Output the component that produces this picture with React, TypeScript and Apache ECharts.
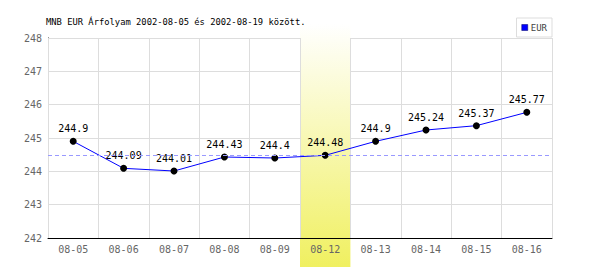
import React, { useEffect, useRef } from "react";
import * as echarts from "echarts";

const titleText = "MNB EUR Árfolyam 2002-08-05 és 2002-08-19 között.";
const seriesName = "EUR";
const categories = ["08-05", "08-06", "08-07", "08-08", "08-09", "08-12", "08-13", "08-14", "08-15", "08-16"];
const values = [244.9, 244.09, 244.01, 244.43, 244.4, 244.48, 244.9, 245.24, 245.37, 245.77];
const highlightCategory = "08-12";
const referenceValue = 244.48;
const yMin = 242;
const yMax = 248;
const yInterval = 1;

const FONT = "DejaVu Sans Mono";

export default function App() {
  const ref = useRef<HTMLDivElement>(null);
  useEffect(() => {
    document.body.style.margin = "0";
    if (!ref.current) return;
    const chart = echarts.init(ref.current, undefined, { renderer: "svg" });
    const bandData = categories.map((c) => (c === highlightCategory ? 1 : null));
    chart.setOption({
      animation: false,
      backgroundColor: "#ffffff",
      title: {
        text: titleText,
        left: 46,
        top: 17,
        padding: 0,
        textStyle: { fontFamily: FONT, fontSize: 8.8, fontWeight: "normal", color: "#000000" },
      },
      legend: {
        data: [{ name: seriesName, itemStyle: { color: "#0000ff", borderColor: "#000066", borderWidth: 0.5 } }],
        right: 48,
        top: 18,
        padding: [5, 5, 5, 5],
        borderColor: "#dddddd",
        borderWidth: 1,
        itemWidth: 6,
        itemHeight: 6,
        itemGap: 3,
        icon: "rect",
        textStyle: { fontFamily: FONT, fontSize: 9, color: "#444444", padding: [0, 0, 0, -2] },
      },
      grid: [
        { left: 48, right: 48, top: 38, bottom: 32, containLabel: false },
        { left: 48, right: 48, top: 24, bottom: 3, containLabel: false },
      ],
      xAxis: [
        {
          type: "category",
          gridIndex: 0,
          data: categories,
          z: 3,
          boundaryGap: true,
          axisLine: { show: true, lineStyle: { color: "#000000", width: 1 } },
          axisTick: { show: false },
          axisLabel: { fontFamily: FONT, fontSize: 10, color: "#666666", margin: 6 },
          splitLine: { show: true, lineStyle: { color: "#dddddd", width: 1 } },
        },
        {
          type: "category",
          gridIndex: 1,
          data: categories,
          show: false,
        },
      ],
      yAxis: [
        {
          type: "value",
          gridIndex: 0,
          min: yMin,
          max: yMax,
          interval: yInterval,
          z: 0,
          axisLine: { show: true, lineStyle: { color: "#000000", width: 1 } },
          axisTick: { show: false },
          axisLabel: { fontFamily: FONT, fontSize: 10, color: "#666666", margin: 6 },
          splitLine: { show: true, lineStyle: { color: "#dddddd", width: 1 } },
        },
        {
          type: "value",
          gridIndex: 1,
          min: 0,
          max: 1,
          show: false,
        },
      ],
      series: [
        {
          type: "line",
          name: "ref",
          xAxisIndex: 0,
          yAxisIndex: 0,
          data: [],
          z: 0.5,
          silent: true,
          markLine: {
            symbol: "none",
            silent: true,
            label: { show: false },
            lineStyle: { color: "#9999ff", type: [4, 3], width: 1 },
            data: [{ yAxis: referenceValue }],
          },
        },
        {
          type: "bar",
          name: "band",
          xAxisIndex: 1,
          yAxisIndex: 1,
          data: bandData,
          barWidth: "100%",
          z: 1,
          silent: true,
          itemStyle: {
            color: new echarts.graphic.LinearGradient(0, 0, 0, 1, [
              { offset: 0, color: "#ffffff" },
              { offset: 1, color: "#f0f060" },
            ]),
          },
        },
        {
          type: "line",
          name: seriesName,
          xAxisIndex: 0,
          yAxisIndex: 0,
          data: values,
          z: 4,
          color: "#0000ff",
          lineStyle: { color: "#0000ff", width: 1 },
          symbol: "circle",
          symbolSize: 7,
          itemStyle: { color: "#000000" },
          label: {
            show: true,
            position: "top",
            distance: 4,
            fontFamily: FONT,
            fontSize: 10,
            color: "#000000",
          },
        },
      ],
    });
    return () => chart.dispose();
  }, []);
  return <div ref={ref} style={{ width: 600, height: 270 }} />;
}
